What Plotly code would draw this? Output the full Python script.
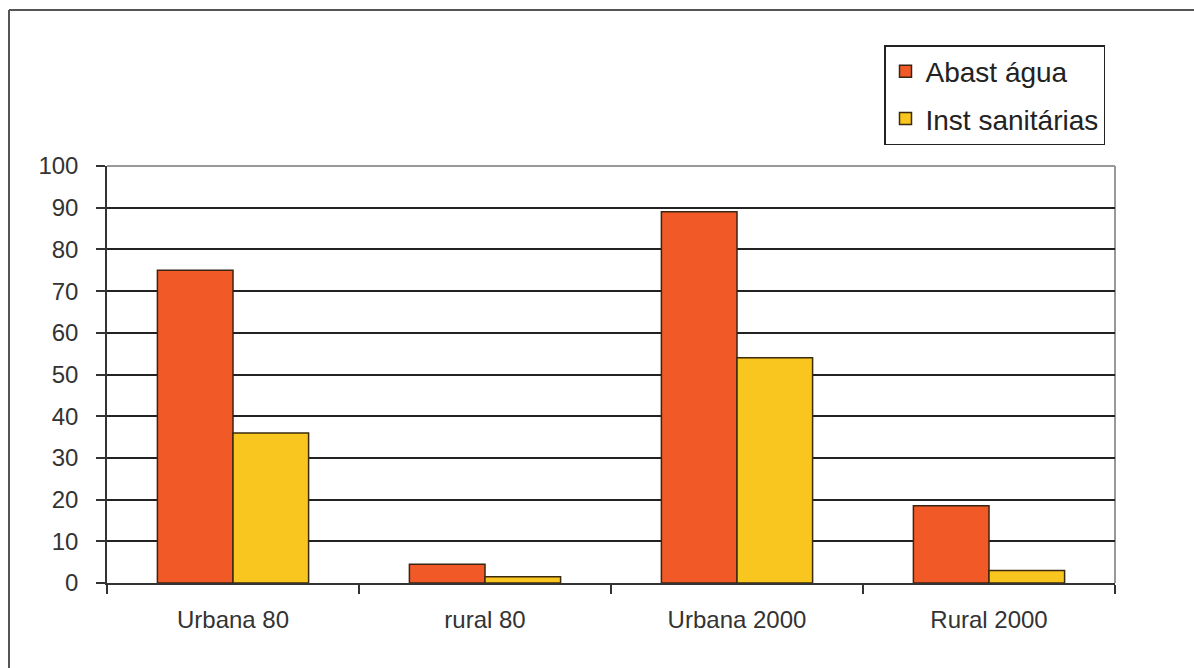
import plotly.graph_objects as go

# Access to water supply and sanitation, urban vs rural (%)
categories = ["Urbana 80", "rural 80", "Urbana 2000", "Rural 2000"]
abast_agua = [75, 4.5, 89, 18.5]
inst_sanitarias = [36, 1.5, 54, 3]
y_ticks = [0, 10, 20, 30, 40, 50, 60, 70, 80, 90, 100]

W, H = 1194, 668
L, R, T, B = 107, 1115, 166, 583

fig = go.Figure()
fig.add_trace(go.Bar(
    name="Abast água", x=categories, y=abast_agua, legendgroup="a",
    marker=dict(color="#F15A27", line=dict(color="#3a2414", width=1.5)),
))
fig.add_trace(go.Bar(
    name="Inst sanitárias", x=categories, y=inst_sanitarias, legendgroup="b",
    marker=dict(color="#F9C51F", line=dict(color="#3a2a10", width=1.5)),
))

def px(x):
    return (x - L) / (R - L)

def py(y):
    return (B - y) / (B - T)

shapes = [
    # outer frame: top and left edges
    dict(type="line", xref="paper", yref="paper", x0=px(9), x1=px(W + 5), y0=py(10), y1=py(10),
         line=dict(color="#555", width=2)),
    dict(type="line", xref="paper", yref="paper", x0=px(9), x1=px(9), y0=py(10), y1=py(H + 5),
         line=dict(color="#555", width=2)),
    # plot area border, top and right
    dict(type="line", xref="paper", yref="paper", x0=0, x1=1, y0=1, y1=1,
         line=dict(color="#999", width=2), layer="below"),
    dict(type="line", xref="paper", yref="paper", x0=1, x1=1, y0=0, y1=1,
         line=dict(color="#999", width=2), layer="below"),
]

fig.update_layout(
    width=W, height=H,
    margin=dict(l=L, r=W - R, t=T, b=H - B, autoexpand=False),
    paper_bgcolor="white", plot_bgcolor="white",
    barmode="group", bargap=0.4, bargroupgap=0,
    font=dict(family="Liberation Sans, Arial, sans-serif", size=24, color="#333"),
    showlegend=True,
    legend=dict(
        x=px(884), y=py(45), xanchor="left", yanchor="top",
        bordercolor="#222", borderwidth=1.5, bgcolor="white",
        font=dict(size=28, color="#222"), tracegroupgap=8,
        itemwidth=30,
    ),
    xaxis=dict(
        showgrid=False, showline=True, linecolor="#333", linewidth=1.5,
        ticks="outside", tickson="boundaries", ticklen=9, tickcolor="#333", tickwidth=1.5,
        tickfont=dict(size=24, color="#333"), range=[-0.5, 3.5], ticklabelstandoff=14,
    ),
    yaxis=dict(
        range=[0, 100], tickvals=y_ticks, showgrid=True, gridcolor="#222", gridwidth=1.5,
        showline=True, linecolor="#333", linewidth=1.5,
        ticks="outside", ticklen=9, tickcolor="#333", tickwidth=1.5,
        tickfont=dict(size=24, color="#333"), zeroline=False, ticklabelstandoff=13,
    ),
    shapes=shapes,
)

fig.write_html("out.html")
